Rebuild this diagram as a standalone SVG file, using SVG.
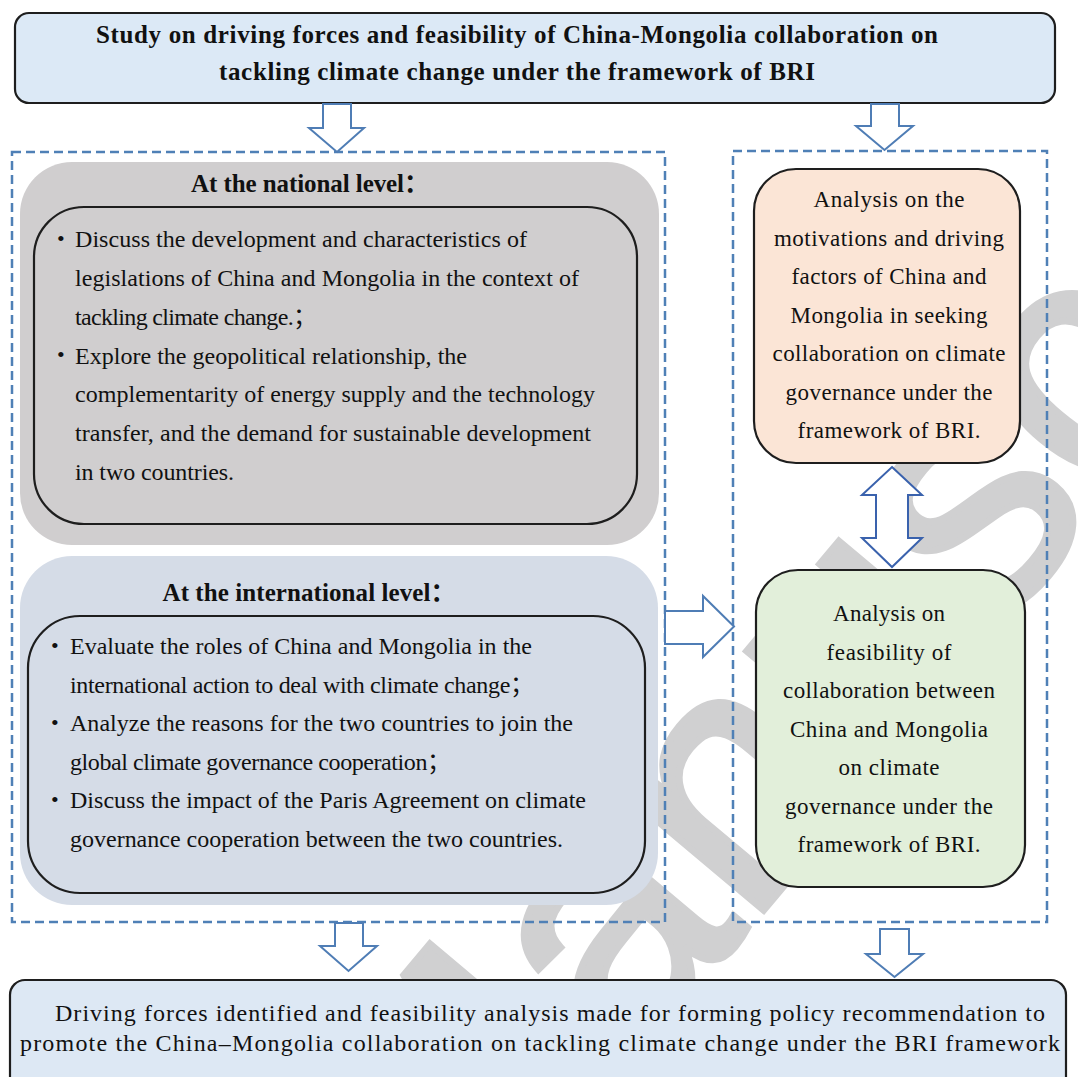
<svg xmlns="http://www.w3.org/2000/svg" width="1078" height="1077" viewBox="0 0 1078 1077">
<style>
  .t { font-family: "Liberation Serif", "Times New Roman", "Noto Sans CJK SC", serif; fill: #111; }
  .tb { font-weight: bold; }
  .f22 { font-size: 22px; }
  .f23 { font-size: 23px; }
  .f24 { font-size: 24px; }
  .f25 { font-size: 25px; }
  .mid { text-anchor: middle; }
  .dash { fill: none; stroke: #4f80b6; stroke-width: 2.5; stroke-dasharray: 9 5; }
  .arrow { fill: #fff; stroke: #4f7db5; stroke-width: 2; stroke-linejoin: miter; }
  .arrow2 { fill: #fff; stroke: #3a62ad; stroke-width: 2; }
  .wm { font-family: "Liberation Sans", Arial, sans-serif; font-size: 340px; fill: #d0d0d1; stroke: #d0d0d1; stroke-width: 7; }
  .box { stroke: #1e1e1e; stroke-width: 2.2; }
</style>
<rect width="1078" height="1077" fill="#fff"/>

<g id="watermark">
  <text class="wm" transform="translate(445,1290) rotate(-50)">Manuscript</text>
</g>

<g id="containers">
  <rect class="dash" x="12" y="152" width="653" height="770"/>
  <rect class="dash" x="733" y="151" width="314" height="771"/>
</g>

<g id="top-box">
  <rect class="box" x="15" y="13" width="1040" height="90" rx="14" fill="#dce9f6"/>
  <text class="t tb f25 mid" x="517" y="43" textLength="842" lengthAdjust="spacing">Study on driving forces and feasibility of China-Mongolia collaboration on</text>
  <text class="t tb f25 mid" x="517" y="80" textLength="596" lengthAdjust="spacing">tackling climate change under the framework of BRI</text>
</g>

<g id="national-level">
  <rect x="20" y="162" width="639" height="383" rx="52" fill="#d0cecf"/>
  <text class="t tb f25 mid" x="310" y="192" textLength="238" lengthAdjust="spacing">At the national level：</text>
  <rect class="box" x="34" y="207" width="603" height="317" rx="50" fill="#d0cecf"/>
  <text class="t f22" x="57" y="246">•</text>
  <text class="t f24" x="75" y="247" textLength="452" lengthAdjust="spacing">Discuss the development and characteristics of</text>
  <text class="t f24" x="75" y="286" textLength="504" lengthAdjust="spacing">legislations of China and Mongolia in the context of</text>
  <text class="t f24" x="75" y="324.5" textLength="242" lengthAdjust="spacing">tackling climate change.；</text>
  <text class="t f22" x="57" y="362">•</text>
  <text class="t f24" x="75" y="363.5" textLength="392" lengthAdjust="spacing">Explore the geopolitical relationship, the</text>
  <text class="t f24" x="75" y="402" textLength="520" lengthAdjust="spacing">complementarity of energy supply and the technology</text>
  <text class="t f24" x="75" y="441" textLength="516" lengthAdjust="spacing">transfer, and the demand for sustainable development</text>
  <text class="t f24" x="75" y="480" textLength="159" lengthAdjust="spacing">in two countries.</text>
</g>

<g id="international-level">
  <rect x="20" y="556" width="638" height="349" rx="52" fill="#d5dce7"/>
  <text class="t tb f25 mid" x="309" y="601" textLength="293" lengthAdjust="spacing">At the international level：</text>
  <rect class="box" x="28" y="616" width="617" height="277" rx="52" fill="#d5dce7"/>
  <text class="t f22" x="51" y="653">•</text>
  <text class="t f24" x="70" y="654" textLength="462" lengthAdjust="spacing">Evaluate the roles of China and Mongolia in the</text>
  <text class="t f24" x="70" y="692.5" textLength="464" lengthAdjust="spacing">international action to deal with climate change；</text>
  <text class="t f22" x="51" y="730">•</text>
  <text class="t f24" x="70" y="731" textLength="503" lengthAdjust="spacing">Analyze the reasons for the two countries to join the</text>
  <text class="t f24" x="70" y="769.5" textLength="381" lengthAdjust="spacing">global climate governance cooperation；</text>
  <text class="t f22" x="51" y="807">•</text>
  <text class="t f24" x="70" y="808" textLength="516" lengthAdjust="spacing">Discuss the impact of the Paris Agreement on climate</text>
  <text class="t f24" x="70" y="846.5" textLength="493" lengthAdjust="spacing">governance cooperation between the two countries.</text>
</g>

<g id="motivations-box">
  <rect class="box" x="754" y="169" width="266" height="294" rx="42" fill="#fbe5d6"/>
  <text class="t f23 mid" x="889" y="207" textLength="151" lengthAdjust="spacing">Analysis on the</text>
  <text class="t f23 mid" x="889" y="246" textLength="230" lengthAdjust="spacing">motivations and driving</text>
  <text class="t f23 mid" x="889" y="284" textLength="195" lengthAdjust="spacing">factors of China and</text>
  <text class="t f23 mid" x="889" y="323" textLength="197" lengthAdjust="spacing">Mongolia in seeking</text>
  <text class="t f23 mid" x="889" y="361" textLength="233" lengthAdjust="spacing">collaboration on climate</text>
  <text class="t f23 mid" x="889" y="400" textLength="207" lengthAdjust="spacing">governance under the</text>
  <text class="t f23 mid" x="889" y="438" textLength="183" lengthAdjust="spacing">framework of BRI.</text>
</g>

<g id="feasibility-box">
  <rect class="box" x="756" y="570" width="269" height="317" rx="42" fill="#e2efda"/>
  <text class="t f23 mid" x="889" y="621" textLength="112" lengthAdjust="spacing">Analysis on</text>
  <text class="t f23 mid" x="889" y="659.5" textLength="125" lengthAdjust="spacing">feasibility of</text>
  <text class="t f23 mid" x="889" y="698" textLength="212" lengthAdjust="spacing">collaboration between</text>
  <text class="t f23 mid" x="889" y="736.5" textLength="198" lengthAdjust="spacing">China and Mongolia</text>
  <text class="t f23 mid" x="889" y="775" textLength="101" lengthAdjust="spacing">on climate</text>
  <text class="t f23 mid" x="889" y="813.5" textLength="208" lengthAdjust="spacing">governance under the</text>
  <text class="t f23 mid" x="889" y="852" textLength="183" lengthAdjust="spacing">framework of BRI.</text>
</g>

<g id="bottom-box">
  <rect class="box" x="10" y="980" width="1056" height="120" rx="15" fill="#dde8f4"/>
  <text class="t f24 mid" x="550" y="1021" textLength="990" lengthAdjust="spacing">Driving forces identified and feasibility analysis made for forming policy recommendation to</text>
  <text class="t f24 mid" x="540" y="1051" textLength="1040" lengthAdjust="spacing">promote the China–Mongolia collaboration on tackling climate change under the BRI framework</text>
</g>

<g id="connectors">
  <path class="arrow" d="M323,104 V128 H309 L337,152 L364,128 H351 V104 Z"/>
  <path class="arrow" d="M871,104 V126 H856 L884.5,150 L913,126 H899 V104 Z"/>
  <path class="arrow" d="M665,611 H703 V596 L734,626.5 L703,657 V644 H665 Z"/>
  <path class="arrow2" d="M892,467 L922,495 H908 V538 H922 L892,567 L862,538 H876 V495 H862 Z"/>
  <path class="arrow" d="M335,923 V946 H320 L348.5,971 L377,946 H363 V923 Z"/>
  <path class="arrow" d="M880,929 V954 H866 L894.5,977 L923,954 H909 V929 Z"/>
</g>
</svg>
